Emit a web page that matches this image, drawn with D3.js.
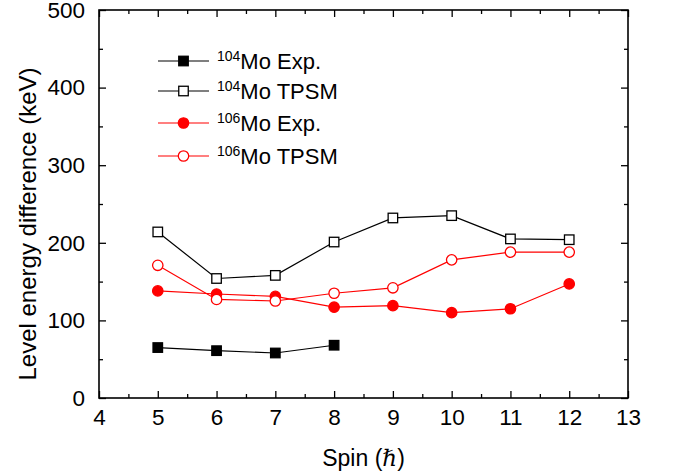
<!DOCTYPE html>
<html><head><meta charset="utf-8">
<script src="https://cdn.jsdelivr.net/npm/d3@7"></script>
<style>
body{margin:0;background:#fff}
text{font-family:Arial,"Liberation Sans",Helvetica,sans-serif;fill:#000}
</style>
</head><body>
<svg id="c" width="673" height="474"></svg>
<script>
// ---- data ----
const spins104Exp = [5, 6, 7, 8];
const mo104Exp = [65, 61, 58, 68];
const spinsAll = [5, 6, 7, 8, 9, 10, 11, 12];
const mo104TPSM = [214, 154, 158, 201, 232, 235, 205, 204];
const mo106Exp = [138, 134, 131, 117, 119, 110, 115, 147];
const mo106TPSM = [171, 127, 125, 135, 142, 178, 188, 188];
const xTicks = [4, 5, 6, 7, 8, 9, 10, 11, 12, 13];
const yTicks = [0, 100, 200, 300, 400, 500];
const xMinor = [4.5, 5.5, 6.5, 7.5, 8.5, 9.5, 10.5, 11.5, 12.5];
const yMinor = [50, 150, 250, 350, 450];
const seriesNames = ["104|Mo Exp.", "104|Mo TPSM", "106|Mo Exp.", "106|Mo TPSM"];

const svg = d3.select("#c");
const L = 99, R = 628, T = 10, B = 398;
const x = d3.scaleLinear().domain([4, 13]).range([L, R]);
const y = d3.scaleLinear().domain([0, 500]).range([B, T]);

const series = [
  {name: seriesNames[0], xs: spins104Exp, ys: mo104Exp, color: "#000", shape: "square", fill: "#000"},
  {name: seriesNames[1], xs: spinsAll, ys: mo104TPSM, color: "#000", shape: "square", fill: "#fff"},
  {name: seriesNames[2], xs: spinsAll, ys: mo106Exp, color: "#ff0000", shape: "circle", fill: "#ff0000"},
  {name: seriesNames[3], xs: spinsAll, ys: mo106TPSM, color: "#ff0000", shape: "circle", fill: "#fff"}
];

// axes (inward ticks, mirrored)
const fs = "22.5px";
function styleAxis(g){ g.select(".domain").remove(); g.selectAll("line").attr("stroke","#000").attr("stroke-width",1.3); }
const gxB = svg.append("g").attr("transform",`translate(0,${B})`)
  .call(d3.axisBottom(x).tickValues(xTicks).tickSizeInner(-7).tickSizeOuter(0).tickPadding(11).tickFormat(d3.format("d")));
styleAxis(gxB); gxB.selectAll("text").style("font-size",fs);
const gxBm = svg.append("g").attr("transform",`translate(0,${B})`)
  .call(d3.axisBottom(x).tickValues(xMinor).tickSizeInner(-4).tickSizeOuter(0).tickFormat(""));
styleAxis(gxBm);
const gxT = svg.append("g").attr("transform",`translate(0,${T})`)
  .call(d3.axisTop(x).tickValues(xTicks).tickSizeInner(-7).tickSizeOuter(0).tickFormat(""));
styleAxis(gxT);
const gxTm = svg.append("g").attr("transform",`translate(0,${T})`)
  .call(d3.axisTop(x).tickValues(xMinor).tickSizeInner(-4).tickSizeOuter(0).tickFormat(""));
styleAxis(gxTm);
const gyL = svg.append("g").attr("transform",`translate(${L},0)`)
  .call(d3.axisLeft(y).tickValues(yTicks).tickSizeInner(-7).tickSizeOuter(0).tickPadding(14).tickFormat(d3.format("d")));
styleAxis(gyL); gyL.selectAll("text").style("font-size",fs);
const gyLm = svg.append("g").attr("transform",`translate(${L},0)`)
  .call(d3.axisLeft(y).tickValues(yMinor).tickSizeInner(-4).tickSizeOuter(0).tickFormat(""));
styleAxis(gyLm);
const gyR = svg.append("g").attr("transform",`translate(${R},0)`)
  .call(d3.axisRight(y).tickValues(yTicks).tickSizeInner(-7).tickSizeOuter(0).tickFormat(""));
styleAxis(gyR);
const gyRm = svg.append("g").attr("transform",`translate(${R},0)`)
  .call(d3.axisRight(y).tickValues(yMinor).tickSizeInner(-4).tickSizeOuter(0).tickFormat(""));
styleAxis(gyRm);

svg.append("rect").attr("x",L).attr("y",T).attr("width",R-L).attr("height",B-T)
  .attr("fill","none").attr("stroke","#000").attr("stroke-width",1.6);

// axis titles
svg.append("text").attr("x",(L+R)/2).attr("y",466).attr("text-anchor","middle")
  .style("font-size","23px")
  .html('Spin (<tspan style="font-family:\'DejaVu Serif\',serif;font-style:italic">ℏ</tspan>)');
svg.append("text").attr("transform","translate(36,224) rotate(-90)").attr("text-anchor","middle")
  .style("font-size","24px").text("Level energy difference (keV)");

// marker drawing
function drawMarker(g, s, cx, cy){
  if (s.shape === "square") {
    const a = 9.5;
    g.append("rect").attr("x",cx-a/2).attr("y",cy-a/2).attr("width",a).attr("height",a)
      .attr("fill",s.fill).attr("stroke",s.color).attr("stroke-width",1.3);
  } else {
    g.append("circle").attr("cx",cx).attr("cy",cy).attr("r",5.2)
      .attr("fill",s.fill).attr("stroke",s.color).attr("stroke-width",1.3);
  }
}

const line = d3.line().x(d=>x(d[0])).y(d=>y(d[1]));
series.forEach(s=>{
  const pts = s.xs.map((v,i)=>[v, s.ys[i]]);
  const g = svg.append("g");
  g.append("path").attr("d",line(pts)).attr("fill","none").attr("stroke",s.color).attr("stroke-width",1.2);
  pts.forEach(p=>drawMarker(g, s, x(p[0]), y(p[1])));
});

// legend
const legRows = [61, 91, 123, 156];
series.forEach((s,i)=>{
  const g = svg.append("g");
  const yy = legRows[i];
  g.append("line").attr("x1",158).attr("x2",209).attr("y1",yy).attr("y2",yy)
    .attr("stroke",s.color).attr("stroke-width",1.2);
  drawMarker(g, s, 183.5, yy);
  const [sup, rest] = s.name.split("|");
  const t = g.append("text").attr("x",217).attr("y",yy+8).style("font-size","22px");
  t.append("tspan").attr("dy",-8).style("font-size","14px").text(sup);
  t.append("tspan").attr("dy",8).text(rest);
});
</script>
</body></html>
